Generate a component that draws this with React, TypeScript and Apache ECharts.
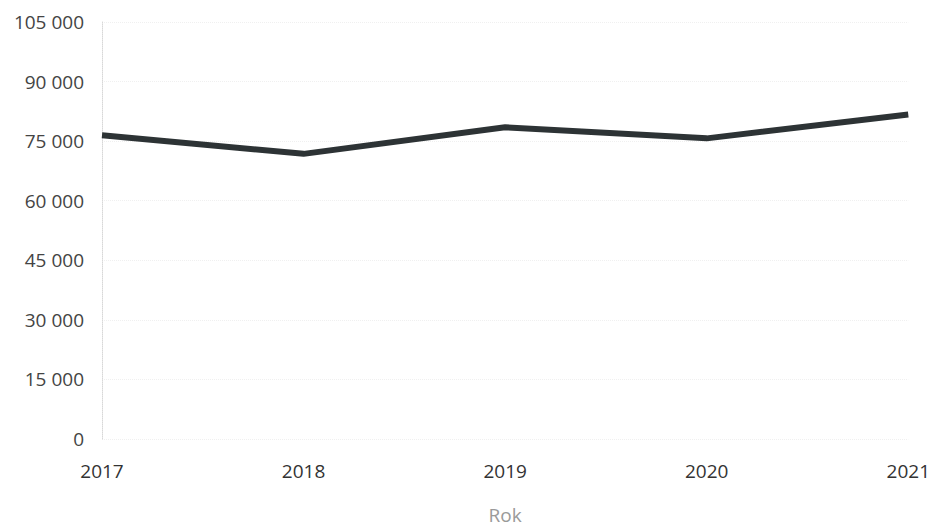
import React, { useEffect, useRef } from "react";
import * as echarts from "echarts";

const years = ["2017", "2018", "2019", "2020", "2021"];
const values = [76500, 71800, 78500, 75700, 81700];
const yTicks = { min: 0, max: 105000, interval: 15000 };

function fmt(v: number): string {
  return String(v).replace(/\B(?=(\d{3})+(?!\d))/g, " ");
}

export default function App() {
  const ref = useRef<HTMLDivElement>(null);
  useEffect(() => {
    if (!ref.current) return;
    const chart = echarts.init(ref.current, undefined, { renderer: "svg" });
    chart.setOption({
      animation: false,
      backgroundColor: "#ffffff",
      textStyle: { fontFamily: "Open Sans" },
      grid: { left: 102, right: 18, top: 22, bottom: 83, containLabel: false },
      xAxis: {
        type: "category",
        data: years,
        boundaryGap: false,
        name: "Rok",
        nameLocation: "middle",
        nameGap: 66,
        nameTextStyle: { color: "#9a9a9a", fontSize: 19, fontFamily: "Open Sans" },
        axisLine: { show: false },
        axisTick: { show: false },
        axisLabel: { color: "#333333", fontSize: 19, margin: 22, fontFamily: "Open Sans" },
        splitLine: { show: false },
      },
      yAxis: {
        type: "value",
        min: yTicks.min,
        max: yTicks.max,
        interval: yTicks.interval,
        axisLine: { show: true, lineStyle: { color: "#d8d8d8", type: "dotted", width: 1 } },
        axisTick: { show: false },
        axisLabel: {
          color: "#444444",
          fontSize: 19,
          margin: 18,
          fontFamily: "Open Sans",
          formatter: (v: number) => fmt(v),
        },
        splitLine: { show: true, lineStyle: { color: "#f0f0f0", type: "dotted", width: 1 } },
      },
      series: [
        {
          type: "line",
          data: values,
          symbol: "none",
          lineStyle: { color: "#2d3335", width: 6 },
          itemStyle: { color: "#2d3335" },
        },
      ],
    });
    return () => chart.dispose();
  }, []);
  return (
    <div
      ref={ref}
      style={{ position: "fixed", left: 0, top: 0, width: 933, height: 529 }}
    />
  );
}
